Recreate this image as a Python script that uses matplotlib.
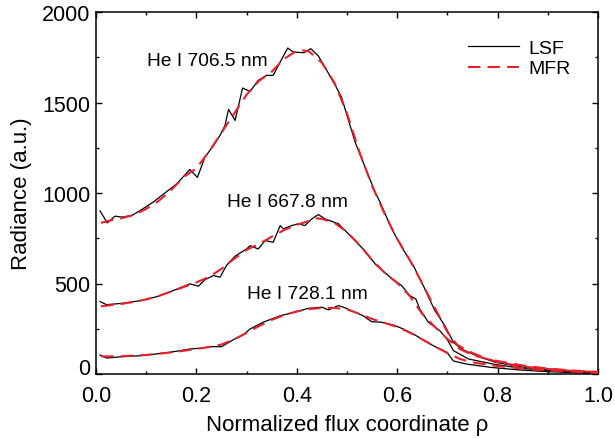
import matplotlib
matplotlib.use("Agg")
import matplotlib.pyplot as plt
from matplotlib.ticker import MultipleLocator, FuncFormatter

plt.rcParams['font.family'] = ['Liberation Sans', 'DejaVu Sans']

# LSF profiles (jagged): rho, radiance
rho_lsf_706 = [0.008, 0.0225, 0.038, 0.051, 0.071, 0.088, 0.114, 0.161, 0.187, 0.202,
               0.217, 0.234, 0.247, 0.257, 0.264, 0.277, 0.292, 0.307, 0.323, 0.340,
               0.353, 0.367, 0.382, 0.393, 0.414, 0.428, 0.443, 0.460, 0.476, 0.489,
               0.496, 0.516, 0.532, 0.556, 0.566, 0.589, 0.609, 0.632, 0.652, 0.675,
               0.695, 0.712, 0.728, 0.758, 0.795, 0.845, 0.898, 0.951, 0.997]
lsf_706 = [901, 835, 872, 867, 875, 903, 950, 1051, 1130, 1086,
           1198, 1262, 1318, 1373, 1462, 1401, 1580, 1561, 1622, 1650,
           1650, 1724, 1801, 1779, 1775, 1797, 1757, 1676, 1598, 1530,
           1465, 1283, 1171, 1005, 949, 802, 701, 599, 488, 350,
           267, 175, 138, 101, 65, 40, 24, 13, 9]

rho_lsf_668 = [0.008, 0.021, 0.054, 0.088, 0.121, 0.154, 0.187, 0.204, 0.217, 0.234,
               0.247, 0.260, 0.277, 0.300, 0.307, 0.323, 0.337, 0.353, 0.367, 0.373,
               0.390, 0.403, 0.416, 0.430, 0.443, 0.456, 0.483, 0.506, 0.532, 0.559,
               0.586, 0.609, 0.625, 0.637, 0.645, 0.662, 0.685, 0.699, 0.712, 0.742,
               0.791, 0.845, 0.898, 0.951, 0.997]
lsf_668 = [400, 383, 391, 405, 427, 461, 498, 485, 521, 544,
           535, 600, 651, 691, 709, 691, 737, 728, 820, 802,
           820, 830, 820, 857, 881, 857, 830, 765, 691, 599,
           535, 488, 433, 415, 359, 286, 239, 194, 129, 83,
           55, 32, 18, 9, 6]

rho_lsf_728 = [0.008, 0.021, 0.054, 0.088, 0.121, 0.154, 0.187, 0.214, 0.227, 0.250,
               0.274, 0.293, 0.307, 0.333, 0.367, 0.396, 0.423, 0.450, 0.463, 0.483,
               0.493, 0.509, 0.532, 0.549, 0.569, 0.592, 0.612, 0.632, 0.672, 0.699,
               0.712, 0.738, 0.785, 0.845, 0.898, 0.997]
lsf_728 = [105, 88, 96, 101, 111, 123, 138, 144, 151, 151,
           190, 216, 249, 286, 322, 341, 363, 369, 354, 378,
           369, 350, 322, 289, 286, 271, 249, 221, 156, 120,
           72, 55, 37, 22, 13, 4]

# MFR reconstructions (smooth)
rho_mfr_706 = [0.01, 0.025, 0.05, 0.075, 0.1, 0.125, 0.15, 0.175, 0.2, 0.225,
               0.25, 0.275, 0.3, 0.325, 0.35, 0.375, 0.4, 0.41, 0.425, 0.45,
               0.475, 0.5, 0.525, 0.55, 0.575, 0.6, 0.625, 0.65, 0.675, 0.7,
               0.72, 0.75, 0.775, 0.8, 0.85, 0.9, 0.95, 1.0]
mfr_706 = [835, 846, 860, 879, 912, 957, 1017, 1089, 1136, 1228,
           1333, 1438, 1543, 1620, 1670, 1742, 1786, 1789, 1781, 1720,
           1609, 1440, 1225, 1040, 885, 747, 630, 500, 365, 232,
           160, 116, 88, 66, 41, 28, 17, 11]

rho_mfr_668 = [0.01, 0.025, 0.05, 0.075, 0.1, 0.125, 0.15, 0.175, 0.2, 0.225,
               0.25, 0.275, 0.3, 0.325, 0.35, 0.375, 0.4, 0.425, 0.44, 0.45,
               0.475, 0.5, 0.525, 0.55, 0.575, 0.6, 0.625, 0.65, 0.675, 0.7,
               0.725, 0.75, 0.775, 0.8, 0.85, 0.9, 0.95, 1.0]
mfr_668 = [374, 379, 387, 398, 412, 431, 456, 481, 506, 536,
           581, 636, 686, 719, 758, 796, 824, 846, 860, 857,
           835, 785, 713, 630, 559, 503, 431, 332, 260, 194,
           138, 105, 86, 72, 47, 30, 19, 11]

rho_mfr_728 = [0.01, 0.05, 0.1, 0.15, 0.2, 0.225, 0.25, 0.275, 0.3, 0.325,
               0.35, 0.375, 0.4, 0.425, 0.45, 0.475, 0.5, 0.525, 0.55, 0.575,
               0.6, 0.625, 0.65, 0.675, 0.7, 0.725, 0.75, 0.8, 0.85, 0.9,
               0.95, 1.0]
mfr_728 = [97, 98, 105, 119, 138, 149, 163, 191, 227, 265,
           299, 326, 346, 359, 365, 365, 357, 332, 304, 282,
           260, 229, 191, 152, 116, 83, 64, 44, 30, 20,
           13, 6]

line_labels = ['He I 706.5 nm', 'He I 667.8 nm', 'He I 728.1 nm']
label_pos = [(0.102, 1731), (0.261, 951), (0.301, 442)]

red = '#e8202a'

fig = plt.figure(figsize=(6.15, 4.39), dpi=100)
ax = fig.add_axes([96 / 615, 1 - 375 / 439, 502 / 615, 362 / 439])

curves = [(rho_lsf_706, lsf_706, rho_mfr_706, mfr_706),
          (rho_lsf_668, lsf_668, rho_mfr_668, mfr_668),
          (rho_lsf_728, lsf_728, rho_mfr_728, mfr_728)]
for i, (rl, vl, rm, vm) in enumerate(curves):
    ax.plot(rl, vl, color='black', lw=0.9, label='LSF' if i == 0 else None, zorder=2)
    ax.plot(rm, vm, color=red, lw=1.5, dashes=(6, 3.4),
            label='MFR' if i == 0 else None, zorder=3)

for txt, (x, y) in zip(line_labels, label_pos):
    ax.text(x, y, txt, fontsize=13.8, ha='left', va='center')

ax.set_xlim(0, 1)
ax.set_ylim(0, 2000)
ax.xaxis.set_major_locator(MultipleLocator(0.2))
ax.xaxis.set_minor_locator(MultipleLocator(0.1))
ax.yaxis.set_major_locator(MultipleLocator(500))
ax.yaxis.set_minor_locator(MultipleLocator(250))
ax.xaxis.set_major_formatter(FuncFormatter(lambda v, p: f'{v:.1f}'))
# "0" on the y axis is drawn separately, a bit above the corner like the original
ax.yaxis.set_major_formatter(FuncFormatter(lambda v, p: '' if v == 0 else f'{v:.0f}'))
ax.annotate('0', xy=(0, 0), xycoords=('axes fraction', 'data'), xytext=(-4, 4),
            textcoords='offset points', ha='right', va='center', fontsize=15.5)

ax.tick_params(which='both', direction='in', top=True, right=True, labelsize=15.5, width=1)
ax.tick_params(which='major', length=4.5)
ax.tick_params(which='minor', length=2.5)
ax.tick_params(axis='x', pad=8)
ax.tick_params(axis='y', pad=4)
for s in ax.spines.values():
    s.set_linewidth(1.1)

ax.set_xlabel('Normalized flux coordinate ρ', fontsize=16, labelpad=6)
ax.set_ylabel('Radiance (a.u.)', fontsize=16, labelpad=7)

ax.legend(loc='upper right', frameon=False, fontsize=14, handlelength=2.6,
          handletextpad=0.5, borderaxespad=1.0, labelspacing=0.15)

fig.savefig('out.png', dpi=100)
